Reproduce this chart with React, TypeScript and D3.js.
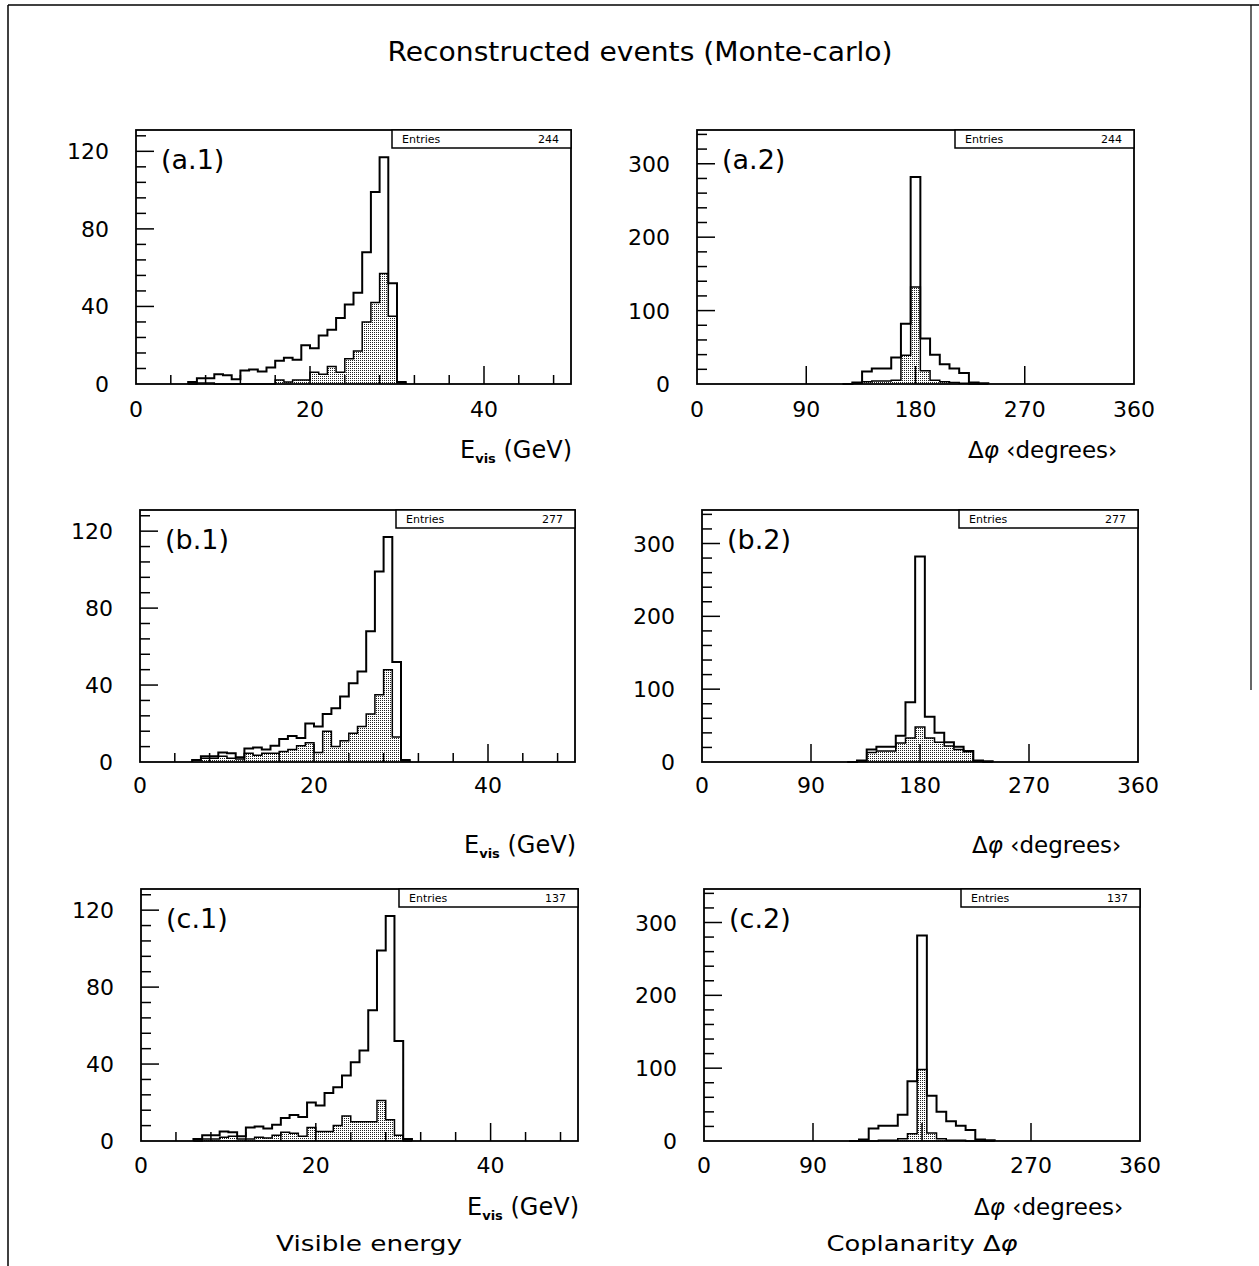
import React from 'react';
import * as d3 from 'd3';

const W = 1259;
const H = 1266;

// ---------- text ----------
const chartTitle = 'Reconstructed events (Monte-carlo)';
const bottomTitles = ['Visible energy', 'Coplanarity Δφ'];
const panelTags = [
  ['(a.1)', '(a.2)'],
  ['(b.1)', '(b.2)'],
  ['(c.1)', '(c.2)'],
];
const entryCounts = [244, 277, 137];

// ---------- visible energy (1 GeV bins, 0–50 GeV) ----------
const eVisDomain = [0, 50];
const eVisYDomain = [0, 131];
const eVisBinWidth = 1;
const eVisFirstBin = 6; // lower edge (GeV) of the first listed bin
const eVisTotal = [1, 3, 3, 5, 4.5, 2.5, 7, 7.5, 6.5, 8.5, 12, 13.5, 12.5, 20, 18.5, 25, 28, 34, 41, 47, 68, 99, 117, 52, 1];
const eVisA = [0, 0.5, 0.5, 0, 0, 0, 0, 0, 0, 0, 2, 1, 2, 2, 6, 5, 9, 6, 13, 17, 32, 42, 57, 35, 0.5];
const eVisB = [1, 2, 2, 3, 2, 1.5, 4.5, 3.5, 4.5, 4.5, 5.5, 6.5, 8.5, 10, 5, 16, 8, 11, 15, 18.5, 25, 35, 48, 13, 0.5];
const eVisC = [0, 1, 1, 2, 2.5, 1, 1, 2, 1.5, 3, 4.5, 4, 2.5, 7, 5, 5, 8, 13, 10, 10, 10, 21, 11, 3, 0];
const eVisXLabels = [0, 20, 40];
const eVisYLabels = [0, 40, 80, 120];

// ---------- coplanarity (8 degree bins, 0–360) ----------
const dPhiDomain = [0, 360];
const dPhiYDomain = [0, 346];
const dPhiBinWidth = 8;
const dPhiFirstBin = 120;
const dPhiTotal = [0, 2, 17, 21, 21, 36, 82, 282, 62, 40, 27, 21, 15, 2, 1];
const dPhiA = [0, 1, 3, 4, 4, 5, 39, 132, 18, 5, 3, 2, 1, 0, 0];
const dPhiB = [0, 1, 13, 15, 15, 26, 33, 48, 33, 27, 22, 17, 14, 1, 0];
const dPhiC = [0, 0, 0, 1, 1, 3, 10, 98, 11, 3, 1, 1, 0, 0, 0];
const dPhiXLabels = [0, 90, 180, 270, 360];
const dPhiYLabels = [0, 100, 200, 300];

// ---------- layout ----------
const rows = [
  { eFrame: [136, 571, 130, 384], pFrame: [697, 1134, 130, 384], eVals: eVisA, pVals: dPhiA, labelDy: 33, titleDy: 74 },
  { eFrame: [140, 575, 510, 762], pFrame: [702, 1138, 510, 762], eVals: eVisB, pVals: dPhiB, labelDy: 31, titleDy: 91 },
  { eFrame: [141, 578, 889, 1141], pFrame: [704, 1140, 889, 1141], eVals: eVisC, pVals: dPhiC, labelDy: 32, titleDy: 74 },
];

const FONT = 'DejaVu Sans, sans-serif';

function stepPoints(first: number, width: number, vals: number[]): [number, number][] {
  const pts: [number, number][] = [[first, 0]];
  vals.forEach((v, i) => pts.push([first + i * width, v]));
  pts.push([first + vals.length * width, 0]);
  return pts;
}

function Panel(props: any) {
  const { kind, frame, vals, tag, entries, labelDy, titleDy } = props;
  const [xl, xr, yt, yb] = frame;
  const isE = kind === 'e';
  const x = d3.scaleLinear().domain(isE ? eVisDomain : dPhiDomain).range([xl, xr]);
  const y = d3.scaleLinear().domain(isE ? eVisYDomain : dPhiYDomain).range([yb, yt]);
  const first = isE ? eVisFirstBin : dPhiFirstBin;
  const bw = isE ? eVisBinWidth : dPhiBinWidth;
  const total = isE ? eVisTotal : dPhiTotal;

  const line = d3
    .line<[number, number]>()
    .x((d) => x(d[0]))
    .y((d) => y(d[1]))
    .curve(d3.curveStepAfter);
  const area = d3
    .area<[number, number]>()
    .x((d) => x(d[0]))
    .y0(y(0))
    .y1((d) => y(d[1]))
    .curve(d3.curveStepAfter);

  const totPts = stepPoints(first, bw, total);
  const partPts = stepPoints(first, bw, vals);

  const xTicks = isE
    ? d3.range(4, 50, 4).map((v) => ({ v, major: v % 20 === 0 }))
    : [90, 180, 270].map((v) => ({ v, major: true }));
  const yTicks = isE
    ? d3.range(8, 131, 8).map((v) => ({ v, major: v % 40 === 0 }))
    : d3.range(20, 346, 20).map((v) => ({ v, major: v % 100 === 0 }));
  const xLabels = isE ? eVisXLabels : dPhiXLabels;
  const yLabels = isE ? eVisYLabels : dPhiYLabels;

  const boxL = xr - 179;
  return (
    <g>
      <path d={area(partPts) || ''} fill="url(#stipple)" stroke="none" />
      <path d={line(partPts) || ''} fill="none" stroke="#000" strokeWidth={1.5} />
      <path d={line(totPts) || ''} fill="none" stroke="#000" strokeWidth={2} />
      <rect x={xl} y={yt} width={xr - xl} height={yb - yt} fill="none" stroke="#000" strokeWidth={1.8} />
      {xTicks.map((t) => (
        <line key={'xt' + t.v} x1={x(t.v)} x2={x(t.v)} y1={yb} y2={yb - (t.major ? 18 : 9)} stroke="#000" strokeWidth={1.5} />
      ))}
      {yTicks.map((t) => (
        <line key={'yt' + t.v} x1={xl} x2={xl + (t.major ? 18 : 10)} y1={y(t.v)} y2={y(t.v)} stroke="#000" strokeWidth={1.5} />
      ))}
      {xLabels.map((v) => (
        <text key={'xl' + v} x={x(v)} y={yb + labelDy} textAnchor="middle" fontSize={22} fontFamily={FONT}>
          {v}
        </text>
      ))}
      {yLabels.map((v) => (
        <text key={'yl' + v} x={xl - 27} y={y(v) + 8} textAnchor="end" fontSize={22} fontFamily={FONT}>
          {v}
        </text>
      ))}
      <rect x={boxL} y={yt} width={xr - boxL} height={18} fill="#fff" stroke="#000" strokeWidth={1.5} />
      <text x={boxL + 10} y={yt + 13} fontSize={11} fontFamily={FONT}>
        Entries
      </text>
      <text x={xr - 12} y={yt + 13} fontSize={11} fontFamily={FONT} textAnchor="end">
        {entries}
      </text>
      <text x={xl + 25} y={yt + 39} fontSize={27} fontFamily={FONT}>
        {tag}
      </text>
      {isE ? (
        <text x={xr + 1} y={yb + titleDy} textAnchor="end" fontSize={24} fontFamily={FONT}>
          E
          <tspan fontSize={13} fontWeight="bold" dy={5}>
            vis
          </tspan>
          <tspan dy={-5}> (GeV)</tspan>
        </text>
      ) : (
        <text x={xr - 166} y={yb + titleDy} textAnchor="start" fontSize={23} fontFamily={FONT}>
          Δ<tspan fontStyle="italic">φ</tspan> ‹degrees›
        </text>
      )}
    </g>
  );
}

export default function App() {
  return (
    <svg
      width={W}
      height={H}
      viewBox={`0 0 ${W} ${H}`}
      style={{ position: 'absolute', left: 0, top: 0, background: '#fff' }}
    >
      <defs>
        <pattern id="stipple" width={2} height={2} patternUnits="userSpaceOnUse">
          <rect width={2} height={2} fill="#fff" />
          <rect x={0} y={0} width={1} height={1} fill="#222" />
        </pattern>
      </defs>
      <rect x={0} y={0} width={W} height={H} fill="#fff" />
      {/* outer page frame */}
      <line x1={8} y1={5} x2={W} y2={5} stroke="#000" strokeWidth={1.5} />
      <line x1={8} y1={5} x2={8} y2={H} stroke="#000" strokeWidth={1.5} />
      <line x1={1251} y1={5} x2={1251} y2={690} stroke="#000" strokeWidth={1.2} />

      <text x={640} y={61} textAnchor="middle" fontSize={26} fontFamily={FONT} textLength={505} lengthAdjust="spacingAndGlyphs">
        {chartTitle}
      </text>

      {rows.map((r, i) => (
        <g key={i}>
          <Panel kind="e" frame={r.eFrame} vals={r.eVals} tag={panelTags[i][0]} entries={entryCounts[i]} labelDy={r.labelDy} titleDy={r.titleDy} />
          <Panel kind="p" frame={r.pFrame} vals={r.pVals} tag={panelTags[i][1]} entries={entryCounts[i]} labelDy={r.labelDy} titleDy={r.titleDy} />
        </g>
      ))}

      <text x={369} y={1251} textAnchor="middle" fontSize={22} fontFamily={FONT} textLength={186} lengthAdjust="spacingAndGlyphs">
        {bottomTitles[0]}
      </text>
      <text x={922} y={1251} textAnchor="middle" fontSize={22} fontFamily={FONT} textLength={191} lengthAdjust="spacingAndGlyphs">
        Coplanarity Δ<tspan fontStyle="italic">φ</tspan>
      </text>
    </svg>
  );
}
